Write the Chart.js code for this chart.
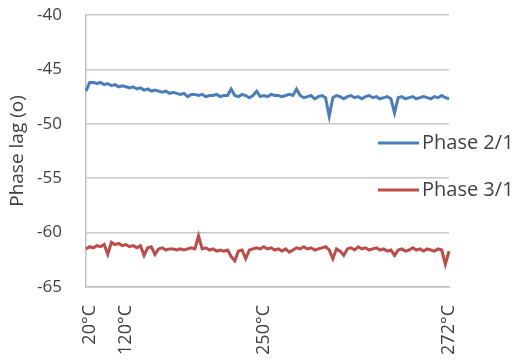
<!DOCTYPE html>
<html>
<head>
<meta charset="utf-8">
<script src="https://cdn.jsdelivr.net/npm/chart.js@4/dist/chart.umd.min.js"></script>
<style>
  html, body { margin: 0; padding: 0; background: #fff; }
  #grafico { display: block; }
</style>
</head>
<body>
<canvas id="grafico" width="517" height="361"></canvas>
<script>
// rotulos do eixo x (indice da amostra -> temperatura)
const rotulosX = { 1: '20°C', 11: '120°C', 49: '250°C', 100: '272°C' };
const nomesSeries = ['Phase 2/1', 'Phase 3/1'];
const ticksY = [-65, -60, -55, -50, -45, -40];

// fase 2/1 (azul)
const fase21 = [
  -47.0, -46.2, -46.2, -46.3, -46.2, -46.4, -46.3, -46.5, -46.4, -46.6,
  -46.5, -46.6, -46.7, -46.6, -46.8, -46.7, -46.9, -46.8, -47.0, -46.9,
  -47.0, -47.1, -47.0, -47.2, -47.1, -47.2, -47.3, -47.2, -47.5, -47.3,
  -47.3, -47.4, -47.3, -47.5, -47.4, -47.4, -47.3, -47.5, -47.4, -47.4,
  -46.8, -47.4, -47.5, -47.3, -47.4, -47.6, -47.4, -47.0, -47.5, -47.4,
  -47.5, -47.3, -47.4, -47.4, -47.5, -47.4, -47.3, -47.4, -46.8, -47.4,
  -47.6, -47.5, -47.4, -47.7, -47.5, -47.4, -47.6, -49.3, -47.6, -47.4,
  -47.5, -47.7, -47.5, -47.4, -47.6, -47.5, -47.7, -47.5, -47.4, -47.6,
  -47.5, -47.7, -47.6, -47.5, -47.7, -49.0, -47.6, -47.5, -47.7, -47.6,
  -47.5, -47.7, -47.6, -47.5, -47.6, -47.7, -47.5, -47.6, -47.4, -47.6,
  -47.7
];

// fase 3/1 (vermelho)
const fase31 = [
  -61.5, -61.3, -61.4, -61.2, -61.3, -61.1, -62.0, -60.9, -61.1, -61.0,
  -61.2, -61.1, -61.3, -61.2, -61.4, -61.2, -62.1, -61.4, -61.3, -62.0,
  -61.5, -61.4, -61.6, -61.5, -61.5, -61.6, -61.5, -61.6, -61.5, -61.4,
  -61.5, -60.3, -61.5, -61.4, -61.6, -61.5, -61.7, -61.6, -61.7, -61.6,
  -62.2, -62.6, -61.7, -61.6, -62.4, -61.6, -61.5, -61.4, -61.5, -61.3,
  -61.5, -61.4, -61.6, -61.5, -61.7, -61.5, -61.8, -61.6, -61.4, -61.5,
  -61.3, -61.5, -61.4, -61.6, -61.5, -61.4, -61.3, -61.6, -62.4, -61.5,
  -61.7, -62.1, -61.5, -61.4, -61.6, -61.3, -61.5, -61.4, -61.6, -61.5,
  -61.4, -61.6, -61.5, -61.7, -61.6, -62.1, -61.6, -61.5, -61.7, -61.6,
  -61.4, -61.6, -61.5, -61.7, -61.5, -61.6, -61.7, -61.5, -61.6, -62.9,
  -61.7
];

const cores = ['#4a7ebb', '#be4b48'];
const corTexto = '#404040';
const fonte = "'Open Sans', sans-serif";

const labels = fase21.map((v, i) => rotulosX[i] || '');

// legenda desenhada a mao, ao lado direito do grafico
const legendaLateral = {
  id: 'legendaLateral',
  afterDraw(chart) {
    const ctx = chart.ctx;
    const area = chart.chartArea;
    const posY = [143, 190];
    ctx.save();
    chart.data.datasets.forEach((ds, i) => {
      const x0 = area.right - 71;
      ctx.strokeStyle = ds.borderColor;
      ctx.lineWidth = 3;
      ctx.beginPath();
      ctx.moveTo(x0, posY[i]);
      ctx.lineTo(x0 + 41, posY[i]);
      ctx.stroke();
      ctx.fillStyle = corTexto;
      ctx.font = '20px ' + fonte;
      ctx.textBaseline = 'middle';
      ctx.fillText(ds.label, x0 + 44, posY[i]);
    });
    ctx.restore();
  }
};

const config = {
  type: 'line',
  data: {
    labels: labels,
    datasets: [
      { label: nomesSeries[0], data: fase21, borderColor: cores[0], borderWidth: 3, pointRadius: 0, tension: 0 },
      { label: nomesSeries[1], data: fase31, borderColor: cores[1], borderWidth: 3, pointRadius: 0, tension: 0 }
    ]
  },
  options: {
    responsive: false,
    animation: false,
    layout: { padding: { left: 0, right: 68, top: 0, bottom: 0 } },
    plugins: {
      legend: { display: false },
      tooltip: { enabled: false }
    },
    scales: {
      x: {
        offset: false,
        grid: { display: false },
        border: { display: true, color: '#bfbfbf', width: 1.5 },
        ticks: {
          autoSkip: false,
          maxRotation: 90,
          minRotation: 90,
          color: corTexto,
          font: { family: fonte, size: 18 },
          padding: 10
        },
        afterFit(scale) {
          scale.height = 74;
          scale.paddingLeft = 0;
          scale.paddingRight = 0;
        }
      },
      y: {
        min: -65,
        max: -40,
        afterBuildTicks(scale) { scale.ticks = ticksY.map(v => ({ value: v })); },
        grid: { color: '#c8c8c8', lineWidth: 1.5, drawTicks: false },
        border: { display: true, color: '#bfbfbf', width: 1.5 },
        ticks: {
          color: corTexto,
          font: { family: fonte, size: 17 },
          padding: 24
        },
        title: {
          display: true,
          text: 'Phase lag (o)',
          color: corTexto,
          font: { family: fonte, size: 19 },
          padding: { top: 6, bottom: 0 }
        },
        afterFit(scale) {
          scale.width = 86;
          scale.paddingTop = 15;
          scale.paddingBottom = 0;
        }
      }
    }
  },
  plugins: [legendaLateral]
};

const grafico = new Chart(document.getElementById('grafico'), config);
</script>
</body>
</html>
